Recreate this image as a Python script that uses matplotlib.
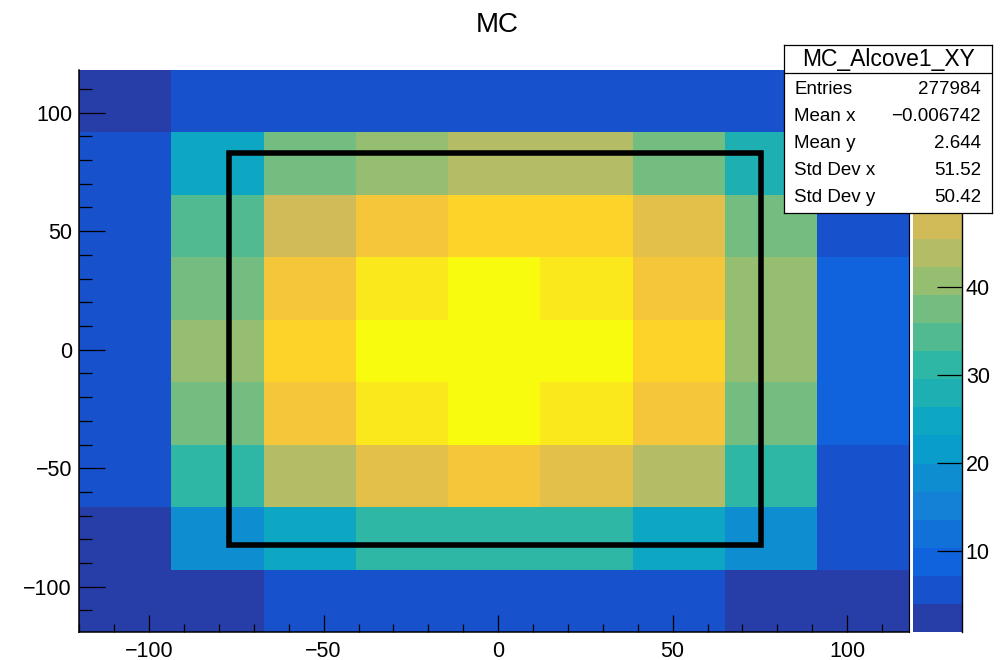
import numpy as np
import matplotlib
matplotlib.use('Agg')
import matplotlib.pyplot as plt
from matplotlib.colors import LinearSegmentedColormap, ListedColormap, BoundaryNorm
from matplotlib.patches import Rectangle
from matplotlib.ticker import MultipleLocator

plt.rcParams['font.family'] = ['Liberation Sans', 'DejaVu Sans']

# ------------------------------------------------------------------ #
# Data
# ------------------------------------------------------------------ #

# histogram binning (9 x 9)
x_lo, x_hi = -120.1, 117.8
y_lo, y_hi = -119.2, 118.0
n_bins = 9

# bin contents, rows from bottom (low y) to top, columns left -> right
counts = [
    [2.4,  2.4,  5.6,  5.6,  5.6,  5.6,  5.6,  2.4,  2.4],
    [2.4, 18.3, 24.7, 31.1, 31.1, 31.1, 24.7, 18.3,  5.6],
    [5.6, 31.1, 43.9, 50.2, 53.4, 50.2, 43.9, 31.1,  5.6],
    [5.6, 37.5, 53.4, 59.8, 63.0, 59.8, 53.4, 37.5,  8.8],
    [5.6, 40.7, 56.6, 63.0, 63.0, 63.0, 56.6, 40.7,  8.8],
    [5.6, 37.5, 53.4, 59.8, 63.0, 59.8, 53.4, 40.7,  8.8],
    [5.6, 34.3, 47.1, 53.4, 56.6, 56.6, 50.2, 37.5,  5.6],
    [5.6, 24.7, 37.5, 40.7, 43.9, 43.9, 37.5, 27.9,  5.6],
    [2.4,  5.6,  5.6,  5.6,  5.6,  5.6,  5.6,  5.6,  2.4],
]

z_min, z_max = 0.8, 64.7
n_contours = 20
cbar_ticks = [10, 20, 30, 40]   # 50 and 60 sit behind the stats box

# alcove outline
box_x = [-77.2, 75.4]
box_y = [-82.4, 82.9]

title = 'MC'
stats_name = 'MC_Alcove1_XY'
stats_labels = ['Entries', 'Mean x', 'Mean y', 'Std Dev x', 'Std Dev y']
stats_values = ['277984', '\u22120.006742', '2.644', '51.52', '50.42']

# ROOT kBird palette
bird_stops = [0.0, 0.125, 0.25, 0.375, 0.5, 0.625, 0.75, 0.875, 1.0]
bird_r = [0.2082, 0.0592, 0.0780, 0.0232, 0.1802, 0.5301, 0.8186, 0.9956, 0.9764]
bird_g = [0.1664, 0.3599, 0.5041, 0.6419, 0.7178, 0.7492, 0.7328, 0.7862, 0.9832]
bird_b = [0.5293, 0.8684, 0.8385, 0.7914, 0.6425, 0.4662, 0.3499, 0.1968, 0.0539]

# ------------------------------------------------------------------ #
# Palette: 255 colours, 20 contour bands like ROOT COLZ
# ------------------------------------------------------------------ #
bird = LinearSegmentedColormap.from_list(
    'bird', list(zip(bird_stops, zip(bird_r, bird_g, bird_b))), N=255)
band_colors = [bird(int((i + 0.99) * 255 / n_contours) / 254.0)
               for i in range(n_contours)]
cmap = ListedColormap(band_colors)
norm = BoundaryNorm(np.linspace(z_min, z_max, n_contours + 1), n_contours)

xedges = np.linspace(x_lo, x_hi, n_bins + 1)
yedges = np.linspace(y_lo, y_hi, n_bins + 1)

# ------------------------------------------------------------------ #
# Figure
# ------------------------------------------------------------------ #
W, H = 1005, 660
fig = plt.figure(figsize=(W / 100, H / 100), dpi=100)

ax = fig.add_axes([79 / W, 1 - 632.3 / H, 830.3 / W, 562.3 / H])
mesh = ax.pcolormesh(xedges, yedges, np.array(counts), cmap=cmap, norm=norm)
ax.add_patch(Rectangle((box_x[0], box_y[0]), box_x[1] - box_x[0], box_y[1] - box_y[0],
                       fill=False, edgecolor='black', linewidth=4.0,
                       joinstyle='miter', zorder=3))
ax.set_xlim(x_lo, x_hi)
ax.set_ylim(y_lo, y_hi)

ax.xaxis.set_major_locator(MultipleLocator(50))
ax.xaxis.set_minor_locator(MultipleLocator(10))
ax.yaxis.set_major_locator(MultipleLocator(50))
ax.yaxis.set_minor_locator(MultipleLocator(10))
ax.tick_params(axis='x', which='major', direction='in', length=12.2, width=0.9,
               labelsize=15.5, pad=6)
ax.tick_params(axis='x', which='minor', direction='in', length=5.8, width=0.9)
ax.tick_params(axis='y', which='major', direction='in', length=18.7, width=0.9,
               labelsize=15.5, pad=5)
ax.tick_params(axis='y', which='minor', direction='in', length=9.4, width=0.9)
ax.spines['top'].set_visible(False)
ax.spines['right'].set_linewidth(0.8)
ax.spines['left'].set_linewidth(1.1)
ax.spines['bottom'].set_linewidth(1.1)

# colour bar
cax = fig.add_axes([912.7 / W, 1 - 632.3 / H, 49 / W, 562.3 / H])
cb = fig.colorbar(mesh, cax=cax, ticks=cbar_ticks)
cb.outline.set_visible(False)
cax.minorticks_off()
cax.tick_params(direction='in', length=18, width=0.9, labelsize=15.5, pad=3)
cax.plot([1, 1], [0, 1], transform=cax.transAxes, color='black', lw=1.0,
         clip_on=False)

fig.text(497 / W, 1 - 25 / H, title, ha='center', va='center', fontsize=20)

# statistics box
sx0, sx1, sy0, sy1 = 784, 992.3, 45, 213.3
sax = fig.add_axes([sx0 / W, 1 - sy1 / H, (sx1 - sx0) / W, (sy1 - sy0) / H])
sax.set_xticks([])
sax.set_yticks([])
sax.set_xlim(sx0, sx1)
sax.set_ylim(sy1, sy0)
for sp in sax.spines.values():
    sp.set_linewidth(0.9)
sax.axhline(73.3, color='black', lw=0.9)
sax.text((sx0 + sx1) / 2, 59.5, stats_name, ha='center', va='center', fontsize=16.5)
row_y = [89.3, 116.3, 143.3, 170.3, 197.3]
for yy, lab, val in zip(row_y, stats_labels, stats_values):
    sax.text(794, yy, lab, ha='left', va='center', fontsize=13.5)
    sax.text(981, yy, val, ha='right', va='center', fontsize=13.5)

fig.savefig('out.png', dpi=100)
